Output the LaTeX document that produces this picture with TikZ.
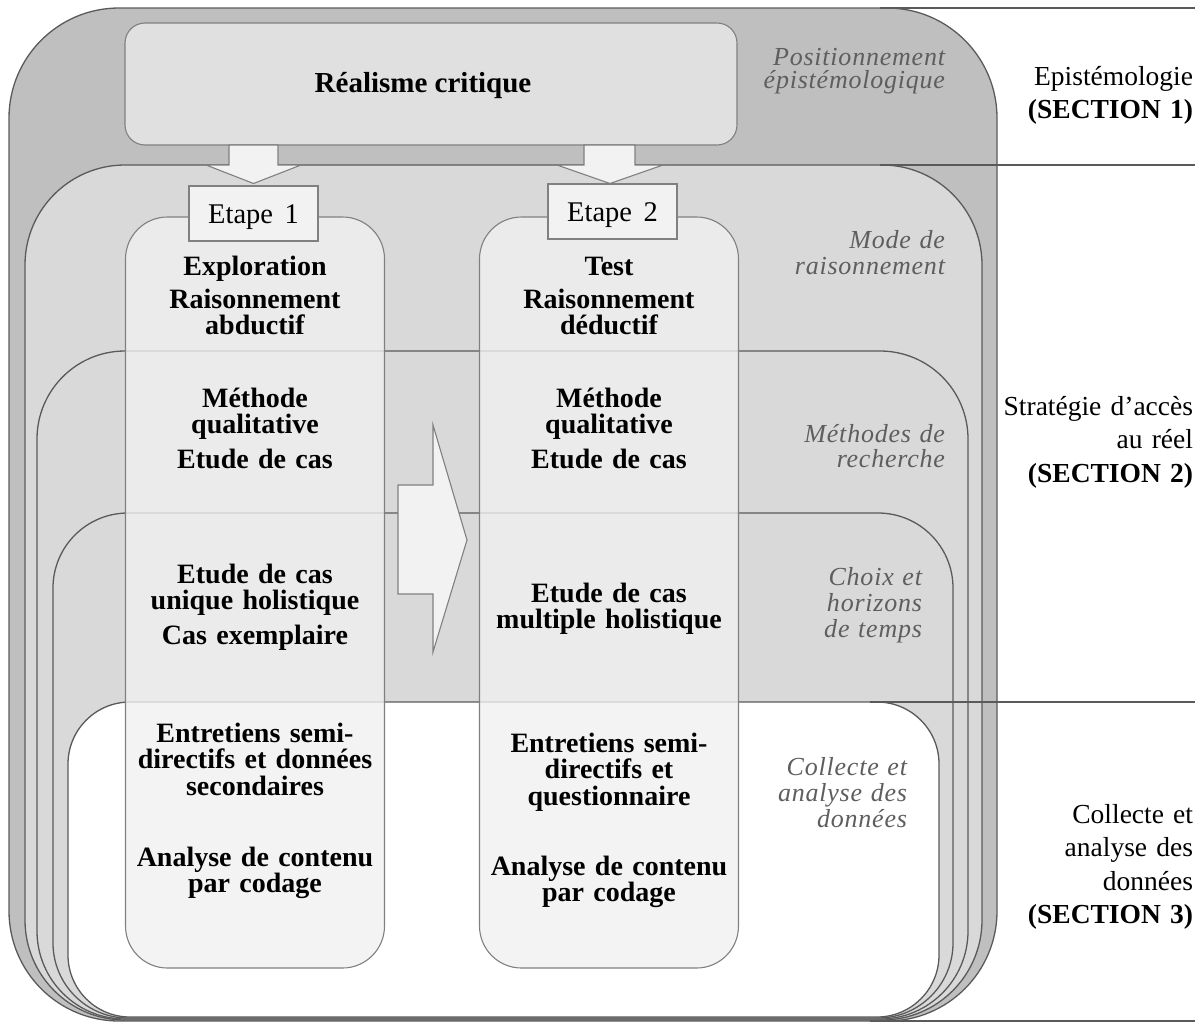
\documentclass[tikz,border=0pt]{standalone}
\usepackage{fontspec}
\setmainfont{Liberation Serif}
\newfontfamily\tagfont[LetterSpace=3]{Liberation Serif}

\definecolor{lineDark}{HTML}{5A5A5A}
\definecolor{lineGray}{HTML}{808080}
\definecolor{outerFill}{HTML}{BFBFBF}
\definecolor{midFill}{HTML}{D9D9D9}
\definecolor{topFill}{HTML}{E0E0E0}
\definecolor{paper}{HTML}{F2F2F2}
\definecolor{colFill}{HTML}{F0F0F0}
\definecolor{labelGray}{HTML}{5E5E5E}

\begin{document}
\begin{tikzpicture}[x=1pt, y=-1pt,
  every node/.style={inner sep=0pt, outer sep=0pt},
  frame/.style={draw=lineDark, line width=1.3pt, rectangle},
  colbody/.style={draw=lineGray, line width=1.1pt, fill=colFill, fill opacity=0.8,
    rounded corners=42pt, minimum width=259pt, minimum height=751pt},
  stage/.style={draw=lineGray, line width=1.1pt, fill=paper, minimum width=129pt,
    minimum height=55pt, font=\fontsize{28.5}{28.5}\selectfont, text height=19pt, text depth=0pt},
  blockarrow/.style={draw=lineGray, line width=1.1pt, fill=paper, line join=miter},
  stepnote/.style={anchor=base, text width=250pt, align=center,
    font=\bfseries\fontsize{28}{26.5}\selectfont},
  levellabel/.style={anchor=base east, text width=220pt, align=right, text=labelGray,
    font=\tagfont\itshape\fontsize{26}{25.5}\selectfont},
  sectionlabel/.style={anchor=base east, text width=220pt, align=right,
    font=\fontsize{27.5}{33.5}\selectfont},
  sepline/.style={draw=lineDark, line width=1.3pt}]

\useasboundingbox (0,0) rectangle (1204,1023);

% nested frames, outermost first
\node[frame, fill=outerFill, rounded corners=110pt, minimum width=988pt, minimum height=1013pt] (outer) at (503,514.5) {};
\node[draw=lineGray, line width=1.1pt, fill=topFill, rounded corners=20pt, minimum width=612pt, minimum height=122pt] (top) at (431,84) {};
\node[frame, fill=midFill, rounded corners=100pt, minimum width=957pt, minimum height=855pt] (mode) at (503.5,592.5) {};
\node[frame, fill=midFill, rounded corners=88pt, minimum width=931pt, minimum height=668pt] (methodes) at (502.5,685) {};
\node[frame, fill=midFill, rounded corners=75pt, minimum width=900pt, minimum height=505pt] (choix) at (503,765.5) {};
\node[frame, fill=white, rounded corners=62pt, minimum width=871pt, minimum height=315pt] (collecte) at (503.5,859.5) {};

% section separators on the right
\coordinate (s0a) at (880,8);    \coordinate (s0b) at (1195,8);
\coordinate (s1a) at (880,165);  \coordinate (s1b) at (1195,165);
\coordinate (s2a) at (870,702);  \coordinate (s2b) at (1195,702);
\coordinate (s3a) at (870,1021); \coordinate (s3b) at (1195,1021);
\draw[sepline] (s0a) -- (s0b);
\draw[sepline] (s1a) -- (s1b);
\draw[sepline] (s2a) -- (s2b);
\draw[sepline] (s3a) -- (s3b);

% arrows from the top frame to both stages
\draw[blockarrow] (229,145) -- (229,165) -- (206,165) -- (253.5,183.5) -- (301,165) -- (278,165) -- (278,145) -- cycle;
\draw[blockarrow] (584,145) -- (584,165) -- (557,165) -- (610,183.5) -- (663,165) -- (635,165) -- (635,145) -- cycle;

% stage columns
\node[colbody] (col1) at (255,592.5) {};
\node[colbody] (col2) at (609,592.5) {};

\node[stage] (etape1) at (253.5,213.5) {Etape\hspace{0.4em}1};
\node[stage] (etape2) at (612.5,211.5) {Etape\hspace{0.4em}2};

% arrow between the stages
\draw[blockarrow] (398,485) -- (433,485) -- (433,425) -- (467,540) -- (433,652) -- (433,594) -- (398,594) -- cycle;

% title
\node[anchor=base, font=\bfseries\fontsize{29}{29}\selectfont] (realisme) at (423,92) {Réalisme critique};

% stage 1 contents
\node[stepnote] (c1a) at (255,275) {Exploration\\[6.5pt]Raisonnement\\abductif};
\node[stepnote] (c1b) at (255,407) {Méthode\\qualitative\\[8pt]Etude de cas};
\node[stepnote] (c1c) at (255,583) {Etude de cas\\unique holistique\\[8pt]Cas exemplaire};
\node[stepnote] (c1d) at (255,742) {Entretiens semi-\\directifs et données\\secondaires};
\node[stepnote] (c1e) at (255,866) {Analyse de contenu\\par codage};

% stage 2 contents
\node[stepnote] (c2a) at (609,275) {Test\\[6.5pt]Raisonnement\\déductif};
\node[stepnote] (c2b) at (609,407) {Méthode\\qualitative\\[8pt]Etude de cas};
\node[stepnote] (c2c) at (609,602) {Etude de cas\\multiple holistique};
\node[stepnote] (c2d) at (609,752) {Entretiens semi-\\directifs et\\questionnaire};
\node[stepnote] (c2e) at (609,875) {Analyse de contenu\\par codage};

% level labels
\node[levellabel, font=\tagfont\itshape\fontsize{26}{23.5}\selectfont] (lpos) at (945,65) {Positionnement\\épistémologique};
\node[levellabel, font=\tagfont\itshape\fontsize{26}{26}\selectfont] (lmode) at (945,248) {Mode de\\raisonnement};
\node[levellabel] (lmeth) at (945,442) {Méthodes de\\recherche};
\node[levellabel, font=\tagfont\itshape\fontsize{26}{26}\selectfont] (lchoix) at (922,585) {Choix et\\horizons\\de temps};
\node[levellabel, font=\tagfont\itshape\fontsize{26}{26}\selectfont] (lcoll) at (907,775) {Collecte et\\analyse des\\données};

% section labels
\node[sectionlabel] (sec1) at (1193,85) {Epistémologie\\\textbf{(SECTION 1)}};
\node[sectionlabel] (sec2) at (1193,415) {Stratégie d’accès\\au réel\\\textbf{(SECTION 2)}};
\node[sectionlabel] (sec3) at (1193,823) {Collecte et\\analyse des\\données\\\textbf{(SECTION 3)}};

\end{tikzpicture}
\end{document}
